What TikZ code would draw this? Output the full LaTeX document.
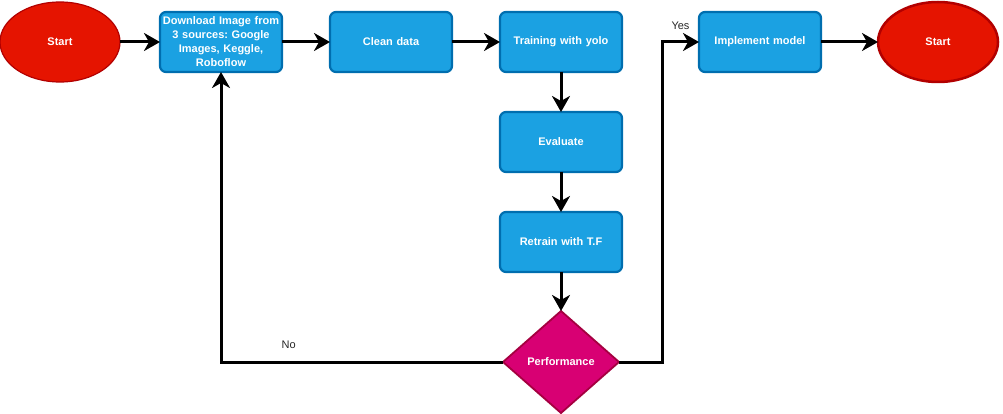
\documentclass[tikz,border=0pt]{standalone}
\usepackage{fontspec}
\setmainfont{Liberation Sans}
\frenchspacing
\usetikzlibrary{positioning}
\usetikzlibrary{arrows.meta,shapes.geometric}
\definecolor{termfill}{HTML}{E51400}
\definecolor{termline}{HTML}{B20000}
\definecolor{procfill}{HTML}{1BA1E2}
\definecolor{procline}{HTML}{006EAF}
\definecolor{decfill}{HTML}{D80073}
\definecolor{decline}{HTML}{A50040}

\begin{document}
\begin{tikzpicture}[->,>={Stealth[length=16pt,width=18pt,inset=5pt]},line width=3pt,
                    node distance=40pt,font=\bfseries\fontsize{11}{14}\selectfont]
  \tikzstyle{terminal}=[ellipse,fill=termfill,draw=termline,line width=1.2pt,outer sep=0pt,
                        text=white,minimum width=120pt,minimum height=80pt,inner sep=0pt]
  \tikzstyle{process}=[rectangle,rounded corners=6pt,fill=procfill,draw=procline,
                       line width=2.2pt,outer sep=0pt,text=white,minimum width=122pt,
                       minimum height=60pt,text width=122pt,align=center,inner sep=0pt]
  \tikzstyle{decision}=[diamond,fill=decfill,draw=decline,line width=1.8pt,outer sep=0pt,
                        text=white,minimum width=116pt,minimum height=102pt,inner sep=0pt]
  \tikzstyle{answer}=[font=\normalfont\fontsize{11}{13}\selectfont,text=black!85]

  \useasboundingbox (0pt,0pt) rectangle (1003pt,-414pt);

  \node[terminal]  (start) at (60pt,-42pt)     {Start};
  \node[process]   (download) [right=40pt of start] {Download Image from\\3 sources: Google\\Images, Keggle,\\Roboflow};
  \node[process]   (clean) [right=48pt of download] {Clean data};
  \node[process]   (train) [right=48pt of clean] {Training with yolo};
  \node[process]   (evaluate) [below=40pt of train] {Evaluate};
  \node[process]   (retrain) [below=40pt of evaluate] {Retrain with T.F};
  \node[decision]  (perf) [below=39pt of retrain] {Performance};
  \node[process]   (implement) [right=77pt of train] {Implement model};
  \node[terminal]  (finish) [right=57pt of implement,line width=2.5pt] {Start};

\draw (start) -- (download);
\draw (download) -- (clean);
\draw (clean) -- (train);
\draw (train) -- (evaluate);
\draw (evaluate) -- (retrain);
\draw (retrain) -- (perf);
\draw (perf.west) -| node[answer,pos=0.38,above=9pt] {No} (download.south);
\draw (perf.east) -- ++(43pt,0) |- node[answer,pos=0.75,above=8pt] {Yes} (implement.west);
\draw (implement) -- (finish);

\end{tikzpicture}
\end{document}
